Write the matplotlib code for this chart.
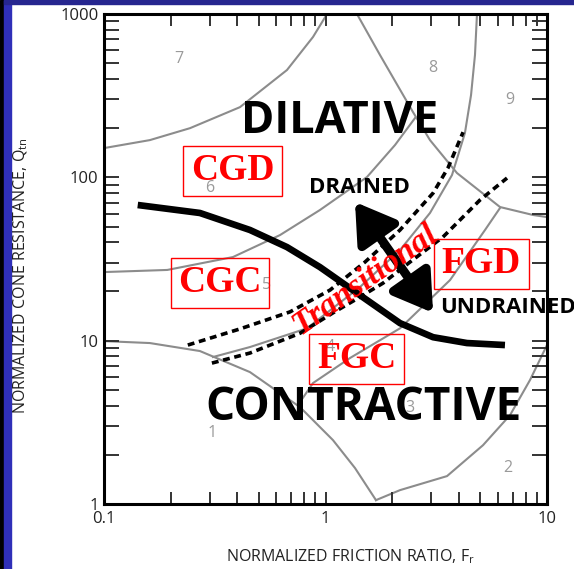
import matplotlib
matplotlib.use("Agg")
import matplotlib.pyplot as plt
from matplotlib.patches import Rectangle
from matplotlib.ticker import FixedLocator, FixedFormatter, NullFormatter, LogLocator

plt.rcParams['font.family'] = ['Open Sans', 'DejaVu Sans']
plt.rcParams['mathtext.default'] = 'regular'

# ---------------- data (Fr %, Qtn) ----------------
x_ticks = [0.1, 1, 10]
x_tick_labels = ["0.1", "1", "10"]
y_ticks = [1, 10, 100, 1000]
y_tick_labels = ["1", "10", "100", "1000"]

# contractive / dilative boundary (thick black)
cd_fr = [0.142, 0.271, 0.456, 0.670, 0.944, 1.43, 2.17, 3.06, 4.35, 6.46]
cd_q = [67.7, 60.5, 47.6, 37.4, 28.2, 19.0, 12.8, 10.5, 9.67, 9.40]

# transitional zone limits (dashed)
tr_up_fr = [0.239, 0.411, 0.691, 1.048, 1.508, 2.17, 3.06, 3.57, 4.18]
tr_up_q = [9.40, 11.8, 15.0, 20.4, 30.3, 47.6, 80.1, 114, 189]
tr_lo_fr = [0.307, 0.456, 0.767, 1.081, 1.431, 1.818, 2.407, 3.39, 4.98, 6.60]
tr_lo_q = [7.29, 8.40, 11.1, 14.8, 18.5, 22.5, 30.3, 43.1, 72.6, 99.0]

# SBT zone boundaries (grey)
b67_fr = [0.1, 0.161, 0.2445, 0.411, 0.670, 0.878, 1.016]
b67_q = [151, 169, 200, 269, 454, 723, 1000]
b56_fr = [0.1, 0.193, 0.382, 0.623, 0.944, 1.539, 2.06, 2.536]
b56_q = [26.3, 27.1, 32.5, 44.3, 63.1, 100.4, 157.7, 230.7]
b8_fr = [1.387, 1.762, 2.483, 2.963, 3.924, 6.135, 8.65, 10]
b8_q = [1000, 561, 251, 169, 106.2, 65.8, 58.8, 57.1]
b45_fr = [0.3105, 0.456, 0.825, 1.431, 2.17, 2.963, 3.725, 4.26, 4.54, 4.73, 4.83]
b45_q = [7.94, 9.14, 11.9, 21.3, 35.9, 60.5, 103.3, 186.7, 319, 561, 1000]
b1_fr = [0.1, 0.161, 0.271, 0.456, 0.767, 1.081, 1.359, 1.690]
b1_q = [9.94, 9.67, 8.64, 6.42, 3.92, 2.46, 1.66, 1.056]
b2_fr = [1.690, 2.17, 3.537, 5.14, 6.81, 8.38, 10]
b2_q = [1.056, 1.216, 1.482, 2.29, 3.50, 5.74, 9.40]
b34_fr = [0.751, 0.878, 1.29, 2.17, 3.65, 5.25, 6.135]
b34_q = [4.03, 5.50, 7.83, 11.9, 23.5, 47.6, 64.9]

# drained / undrained arrow end points
arrow_fr = [1.359, 3.06]
arrow_q = [70.6, 14.8]

zone_numbers = ["1", "2", "3", "4", "5", "6", "7", "8", "9"]
region_labels = ["CGD", "CGC", "FGD", "FGC"]

# ---------------- figure ----------------
W, H = 574, 569
fig = plt.figure(figsize=(W / 100, H / 100), dpi=100)
ax = fig.add_axes([104 / W, 1 - 504 / H, 443 / W, 490 / H])
ax.set_xscale('log')
ax.set_yscale('log')
ax.set_xlim(0.1, 10)
ax.set_ylim(1, 1000)

grey = '#8c8c8c'
for fr, q in [(b67_fr, b67_q), (b56_fr, b56_q), (b8_fr, b8_q), (b45_fr, b45_q),
              (b1_fr, b1_q), (b2_fr, b2_q), (b34_fr, b34_q)]:
    ax.plot(fr, q, color=grey, lw=1.5, zorder=1)

ax.plot(cd_fr, cd_q, color='black', lw=4.8, solid_capstyle='butt', zorder=3)
ax.plot(tr_up_fr, tr_up_q, color='black', lw=2.6, linestyle=(0, (1.9, 1.3)), zorder=3)
ax.plot(tr_lo_fr, tr_lo_q, color='black', lw=2.6, linestyle=(0, (1.9, 1.3)), zorder=3)

ax.annotate('', xy=(arrow_fr[1], arrow_q[1]), xytext=(arrow_fr[0], arrow_q[0]),
            arrowprops=dict(arrowstyle='<|-|>,head_length=1.15,head_width=0.72',
                            color='black', lw=6.5, shrinkA=0, shrinkB=0,
                            mutation_scale=20), zorder=4)

def afx(px):
    return (px - 104) / 443

def afy(py):
    return (504 - py) / 490

# zone numbers
zone_pos = {"1": (212, 433), "2": (508, 468), "3": (410, 408), "4": (330, 347),
            "5": (267, 285), "6": (210, 188), "7": (179, 59), "8": (433, 68),
            "9": (510, 100)}
for z in zone_numbers:
    px, py = zone_pos[z]
    ax.text(afx(px), afy(py), z, transform=ax.transAxes, ha='center', va='center',
            fontsize=11.5, color='#9a9a9a', zorder=2)

# big labels
ax.text(afx(340), afy(133), "DILATIVE", transform=ax.transAxes, ha='center',
        va='baseline', fontsize=32.5, fontweight='bold', color='black', zorder=5)
ax.text(afx(364), afy(420), "CONTRACTIVE", transform=ax.transAxes, ha='center',
        va='baseline', fontsize=33, fontweight='bold', color='black', zorder=5)
ax.text(afx(359), afy(193), "DRAINED", transform=ax.transAxes, ha='center',
        va='baseline', fontsize=16, fontweight='bold', color='black', zorder=5)
ax.text(afx(440), afy(313), "UNDRAINED", transform=ax.transAxes, ha='left',
        va='baseline', fontsize=16, fontweight='bold', color='black', zorder=5,
        clip_on=False)

# red boxed region labels
region_pos = {"CGD": (232.5, 180), "CGC": (220, 292), "FGD": (481.5, 273), "FGC": (356.5, 368)}
for lab in region_labels:
    px, py = region_pos[lab]
    ax.text(afx(px), afy(py), lab, transform=ax.transAxes, ha='center', va='baseline',
            fontsize=27, fontweight='bold', color='red', family='Liberation Serif',
            zorder=6, bbox=dict(boxstyle='square,pad=0.2', fc='none', ec='red', lw=1.0))

ax.text(afx(365), afy(279), "Transitional", transform=ax.transAxes, ha='center',
        va='center', rotation=35, rotation_mode='anchor', fontsize=24,
        fontweight='bold', fontstyle='italic', color='red', family='Liberation Serif',
        zorder=6)

# axes styling
for s in ax.spines.values():
    s.set_linewidth(2.2)
    s.set_color('black')
ax.xaxis.set_major_locator(FixedLocator(x_ticks))
ax.xaxis.set_major_formatter(FixedFormatter(x_tick_labels))
ax.yaxis.set_major_locator(FixedLocator(y_ticks))
ax.yaxis.set_major_formatter(FixedFormatter(y_tick_labels))
ax.xaxis.set_minor_locator(LogLocator(base=10, subs=range(2, 10)))
ax.yaxis.set_minor_locator(LogLocator(base=10, subs=range(2, 10)))
ax.xaxis.set_minor_formatter(NullFormatter())
ax.yaxis.set_minor_formatter(NullFormatter())
ax.tick_params(axis='y', which='both', direction='in', length=10.8, width=1.4,
               left=True, right=True, pad=4, labelsize=12, colors='#333333',
               labelcolor='#222222')
ax.tick_params(axis='x', which='both', direction='in', length=8.6, width=1.4,
               top=True, bottom=True, pad=5, labelsize=12, colors='#333333',
               labelcolor='#222222')

fig.text(351 / W, 1 - 557 / H, r"NORMALIZED FRICTION RATIO, F$_{r}$", ha='center',
         va='center', fontsize=11.5, color='#222222')
fig.text(21 / W, 1 - 276 / H, r"NORMALIZED CONE RESISTANCE, Q$_{tn}$", ha='center',
         va='center', rotation=90, fontsize=11.5, color='#222222')

# frame decoration (slide border)
fig.patches.append(Rectangle((0, 0), 3.5 / W, 1, transform=fig.transFigure,
                             color='black', zorder=0))
fig.patches.append(Rectangle((3.5 / W, 0), 7 / W, 1, transform=fig.transFigure,
                             color='#2f2fb8', zorder=0))
fig.patches.append(Rectangle((3.5 / W, 1 - 3.5 / H), 1, 3.5 / H, transform=fig.transFigure,
                             color='#26268f', zorder=0))

fig.savefig('out.png', dpi=100)
